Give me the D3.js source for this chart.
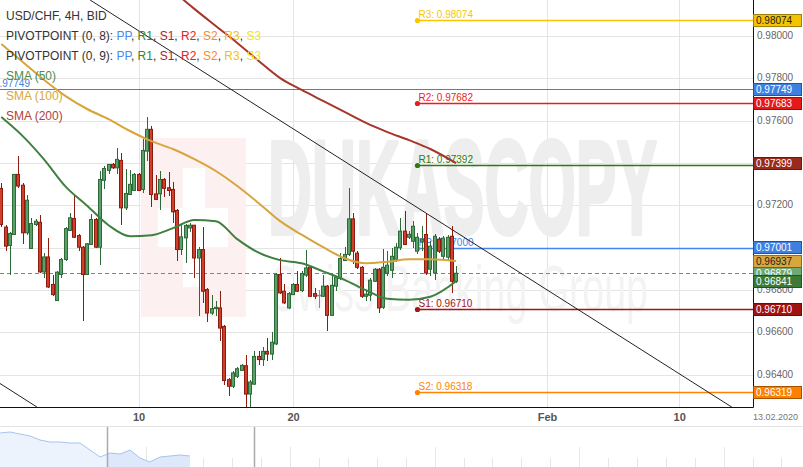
<!DOCTYPE html>
<html><head><meta charset="utf-8">
<script src="https://cdn.jsdelivr.net/npm/d3@7"></script>
<style>
html,body{margin:0;padding:0;background:#fff;}
svg{display:block;font-family:"Liberation Sans",Arial,sans-serif;}
</style></head><body>
<svg id="chart" width="803" height="467"></svg>
<script>
// ---------- DATA (USD/CHF 4H candles, index = candle number) ----------
const candleOpen = [
0.97280,0.97097,0.97010,0.97062,0.97346,0.97295,0.97070,0.96996,0.97109,0.97120,
0.96885,0.96956,0.96826,0.96750,0.96873,0.96944,0.97081,0.97138,0.97057,0.97002,
0.96873,0.97015,0.97133,0.97002,0.97318,0.97365,0.97393,0.97377,0.97412,0.97188,
0.97251,0.97270,0.97346,0.97275,0.97456,0.97559,0.97254,0.97254,0.97322,0.97283,
0.97275,0.97176,0.96991,0.97046,0.97093,0.97106,0.96951,0.96991,0.96802,0.96691,
0.96712,0.96715,0.96628,0.96376,0.96345,0.96392,0.96420,0.96442,0.96308,0.96355,
0.96486,0.96471,0.96510,0.96497,0.96545,0.96873,0.96794,0.96715,0.96778,0.96826,
0.96797,0.96870,0.96907,0.96783,0.96775,0.96770,0.96818,0.96680,0.96818,0.96854,
0.96939,0.96968,0.97136,0.96974,0.96907,0.96770,0.96775,0.96841,0.96898,0.96718,
0.96879,0.96893,0.96945,0.96999,0.97078,0.97049,0.97030,0.96983,0.97030,0.97062,
0.96898,0.96880,0.97040,0.96959,0.96955,0.97054,0.96841];
const candleHigh = [
0.97306,0.97109,0.97073,0.97348,0.97432,0.97305,0.97251,0.97141,0.97133,0.97153,
0.96975,0.97046,0.96873,0.96889,0.96950,0.97097,0.97164,0.97251,0.97063,0.97007,
0.97022,0.97157,0.97138,0.97362,0.97385,0.97396,0.97399,0.97472,0.97448,0.97370,
0.97365,0.97354,0.97354,0.97511,0.97617,0.97574,0.97341,0.97362,0.97328,0.97357,
0.97310,0.97182,0.97106,0.97114,0.97117,0.97109,0.97003,0.97097,0.96808,0.96774,
0.96747,0.96797,0.96633,0.96382,0.96419,0.96434,0.96450,0.96494,0.96373,0.96513,
0.96510,0.96530,0.96573,0.96600,0.96879,0.96949,0.96826,0.96789,0.96833,0.96889,
0.96889,0.96988,0.96912,0.96810,0.96802,0.96873,0.96822,0.96873,0.96865,0.96975,
0.97002,0.97281,0.97163,0.96983,0.96912,0.96794,0.96855,0.96903,0.96903,0.96993,
0.96983,0.96999,0.97021,0.97141,0.97172,0.97078,0.97125,0.97068,0.97101,0.97164,
0.97030,0.97063,0.97049,0.97054,0.97059,0.97101,0.96912];
const candleLow = [
0.97098,0.96983,0.96873,0.97059,0.97283,0.97015,0.97062,0.96993,0.97101,0.96879,
0.96857,0.96808,0.96770,0.96747,0.96857,0.96936,0.97078,0.97046,0.96983,0.96652,
0.96870,0.97012,0.96999,0.96917,0.97275,0.97346,0.97370,0.97346,0.97109,0.97180,
0.97248,0.97267,0.97267,0.97259,0.97409,0.97191,0.97223,0.97176,0.97239,0.97243,
0.97117,0.96939,0.96964,0.96928,0.97074,0.96857,0.96676,0.96739,0.96649,0.96680,
0.96676,0.96557,0.96349,0.96297,0.96337,0.96384,0.96416,0.96230,0.96235,0.96353,
0.96447,0.96443,0.96463,0.96468,0.96538,0.96780,0.96732,0.96709,0.96775,0.96789,
0.96791,0.96860,0.96766,0.96758,0.96715,0.96766,0.96608,0.96676,0.96797,0.96849,
0.96936,0.96959,0.96922,0.96898,0.96761,0.96747,0.96747,0.96837,0.96691,0.96709,
0.96865,0.96855,0.96932,0.96991,0.97012,0.97040,0.96999,0.96969,0.96983,0.96873,
0.96865,0.96849,0.96974,0.96945,0.96936,0.96786,0.96832];
const candleClose = [
0.97109,0.97007,0.97067,0.97346,0.97291,0.97070,0.97224,0.97114,0.97125,0.96885,
0.96956,0.96814,0.96778,0.96884,0.96944,0.97090,0.97141,0.97049,0.97002,0.96873,
0.97018,0.97133,0.97002,0.97322,0.97374,0.97393,0.97377,0.97417,0.97188,0.97256,
0.97299,0.97346,0.97270,0.97459,0.97559,0.97251,0.97228,0.97322,0.97280,0.97270,
0.97169,0.96991,0.97051,0.97105,0.97106,0.96951,0.96991,0.96794,0.96691,0.96712,
0.96718,0.96620,0.96372,0.96345,0.96408,0.96428,0.96444,0.96308,0.96365,0.96486,
0.96471,0.96510,0.96497,0.96553,0.96873,0.96786,0.96739,0.96783,0.96826,0.96794,
0.96878,0.96904,0.96770,0.96770,0.96775,0.96818,0.96680,0.96822,0.96860,0.96949,
0.96968,0.97136,0.96983,0.96907,0.96770,0.96780,0.96846,0.96898,0.96715,0.96907,
0.96917,0.96959,0.97002,0.97078,0.97015,0.97063,0.97101,0.97049,0.97040,0.96880,
0.97007,0.97054,0.96983,0.97045,0.97049,0.96841,0.96879];

// moving averages read at these candle indices
const smaIdx = [0,5,10,15,20,25,30,35,40,45,50,55,60,65,70,75,80,85,90,95,100,106];
const sma50  = [0.97617,0.97527,0.97416,0.97288,0.97198,0.97106,0.97054,0.97059,0.97092,0.97130,0.97125,
                0.97040,0.96976,0.96941,0.96926,0.96888,0.96848,0.96799,0.96758,0.96754,0.96768,0.96841];
const sma100 = [0.97962,0.97877,0.97792,0.97716,0.97655,0.97607,0.97551,0.97503,0.97466,0.97418,0.97362,
                0.97291,0.97210,0.97125,0.97061,0.97002,0.96950,0.96926,0.96933,0.96945,0.96945,0.96937];
const sma200 = [null,null,null,null,null,null,null,null,0.98213,0.98128,0.98047,
                0.97967,0.97882,0.97801,0.97745,0.97693,0.97641,0.97589,0.97546,0.97508,0.97466,0.97399];

// pivot points
const pivotNames  = ["R3","R2","R1","PP","S1","S2"];
const pivotValues = [0.98074,0.97682,0.97392,0.97000,0.96710,0.96318];
const pivotColors = ["#f7c600","#ea1c1c","#2d7a12","#4385ee","#a31414","#ff8200"];
const pivotStart  = 97;
const weekPivot   = 0.97749;

// trend lines: [index, price] pairs
const trendA = [[20.7,0.98170],[178,0.96147]];
const trendB = [[-0.3,0.96358],[8.3,0.96247]];

// right-hand price tags
const tagValues = [0.98074,0.97749,0.97683,0.97399,0.97001,0.96937,0.96879,0.96841,0.96710,0.96319];
const tagFills  = ["#f5c400","#3f7fe0","#e41a1a","#9a2a1c","#3f7fe0","#d8a63c","#6ea872","#3d7a36","#a01313","#ff8000"];
const tagText   = ["#222","#fff","#fff","#fff","#fff","#222","#fff","#fff","#fff","#fff"];
const lastPrice = 0.96879;

// axes
const yTicks = [0.964,0.966,0.968,0.970,0.972,0.974,0.976,0.978,0.980];
const xTickIdx = [32,68,127.2,158];
const xTickLabels = ["10","20","Feb","10"];

// navigator mini chart
const navVals = [0.97870,0.97925,0.97815,0.97705,0.97485,0.97375,0.97375,0.97320,0.97320,0.96935,
                 0.96550,0.96770,0.96715,0.96935,0.96495,0.96275,0.96550,0.96605,0.96660,0.96605];

// ---------- DRAW ----------
const svg = d3.select("#chart");
const PR = 753, PB = 407;
const x = d3.scaleLinear().domain([-0.3,175.2]).range([0,PR]);
const y = d3.scaleLinear().domain([0.96247,0.98170]).range([PB,0]);

svg.append("defs").append("clipPath").attr("id","pc")
  .append("rect").attr("x",0).attr("y",0).attr("width",PR).attr("height",PB);

// grid
const grid = svg.append("g").attr("clip-path","url(#pc)");
grid.append("g").attr("transform",`translate(${PR},0)`)
  .call(d3.axisLeft(y).tickValues(yTicks).tickSize(PR).tickFormat(""))
  .call(g=>g.select(".domain").remove())
  .call(g=>g.selectAll("line").attr("stroke","#e4e4e4").attr("shape-rendering","crispEdges"));
grid.append("g").attr("transform",`translate(0,${PB})`)
  .call(d3.axisTop(x).tickValues(xTickIdx).tickSize(PB).tickFormat(""))
  .call(g=>g.select(".domain").remove())
  .call(g=>g.selectAll("line").attr("stroke","#e4e4e4").attr("shape-rendering","crispEdges"));

// watermark
const wm = svg.append("g").attr("clip-path","url(#pc)");
wm.append("rect").attr("x",141).attr("y",138).attr("width",105).attr("height",179).attr("fill","#fcf0f0");
wm.append("rect").attr("x",183).attr("y",168).attr("width",22).attr("height",119).attr("fill","#fff");
wm.append("rect").attr("x",158).attr("y",208).attr("width",70).attr("height",39).attr("fill","#fff");
wm.append("text").attr("x",268).attr("y",234).attr("font-size",134).attr("font-weight","bold")
  .attr("font-family","'Liberation Sans Narrow','Liberation Sans',Arial")
  .attr("textLength",389).attr("lengthAdjust","spacingAndGlyphs")
  .attr("fill","#eeeeee").attr("stroke","#eeeeee").attr("stroke-width",4).attr("stroke-linejoin","round")
  .text("DUKASCOPY");
wm.append("text").attr("x",271).attr("y",311).attr("font-size",64)
  .attr("font-family","'Liberation Sans Narrow','Liberation Sans',Arial")
  .attr("textLength",377).attr("lengthAdjust","spacingAndGlyphs")
  .attr("fill","#f3f3f3").text("Swiss Banking Group");

const plot = svg.append("g").attr("clip-path","url(#pc)");

// week pivot line (full width)
plot.append("line").attr("x1",0).attr("x2",PR).attr("y1",Math.round(y(weekPivot))+0.5).attr("y2",Math.round(y(weekPivot))+0.5)
  .attr("stroke","#3f7fe0").attr("stroke-width",1);
plot.append("text").attr("x",30).attr("y",y(weekPivot)-2).attr("text-anchor","end")
  .attr("font-size",10).attr("fill","#3f7fe0").text(weekPivot.toFixed(5));

// pivot lines
pivotValues.forEach((v,k)=>{
  const yy = Math.round(y(v))+0.5, xx = x(pivotStart);
  plot.append("line").attr("x1",xx).attr("x2",PR).attr("y1",yy).attr("y2",yy)
    .attr("stroke",pivotColors[k]).attr("stroke-width",1.4);
  plot.append("circle").attr("cx",xx).attr("cy",yy).attr("r",2.6).attr("fill",pivotColors[k]);
  plot.append("text").attr("x",xx+1).attr("y",yy-2.5).attr("font-size",10)
    .attr("fill",pivotColors[k]).text(`${pivotNames[k]}: ${v.toFixed(5)}`);
});

// last price dashed line
plot.append("line").attr("x1",0).attr("x2",PR).attr("y1",Math.round(y(lastPrice))+0.5).attr("y2",Math.round(y(lastPrice))+0.5)
  .attr("stroke","#5f9a68").attr("stroke-dasharray","4,3").attr("stroke-width",1);

// candles
const cg = plot.append("g");
candleOpen.forEach((o,i)=>{
  const c = candleClose[i], h = candleHigh[i], l = candleLow[i];
  const up = c > o, doji = c === o;
  const stroke = doji ? "#888" : (up ? "#2c6b37" : "#8c1b10");
  const fill = doji ? "#888" : (up ? "#5aa06a" : "#cf3f2b");
  const px = Math.round(x(i));
  cg.append("line").attr("x1",px).attr("x2",px).attr("y1",y(h)).attr("y2",y(l))
    .attr("stroke",stroke).attr("stroke-width",1).attr("shape-rendering","crispEdges");
  const yt = y(Math.max(o,c)), yb = y(Math.min(o,c));
  cg.append("rect").attr("x",px-1.5).attr("y",yt).attr("width",3).attr("height",Math.max(yb-yt,0.6))
    .attr("fill",fill).attr("stroke",stroke).attr("stroke-width",1);
});

// SMAs
const smaLine = d3.line().defined(d=>d[1]!==null).x(d=>x(d[0])).y(d=>y(d[1])).curve(d3.curveMonotoneX);
[[sma200,"#a8352a"],[sma100,"#d8a53c"],[sma50,"#3f8040"]].forEach(([arr,col])=>{
  plot.append("path").datum(smaIdx.map((t,k)=>[t,arr[k]])).attr("d",smaLine)
    .attr("fill","none").attr("stroke",col).attr("stroke-width",2);
});

// trend lines
[trendA,trendB].forEach(t=>{
  plot.append("line").attr("x1",x(t[0][0])).attr("y1",y(t[0][1])).attr("x2",x(t[1][0])).attr("y2",y(t[1][1]))
    .attr("stroke","#222").attr("stroke-width",1);
});

// legend
const leg = svg.append("g").attr("font-size",12).attr("fill","#333");
leg.append("text").attr("x",6).attr("y",20).text("USD/CHF, 4H, BID");
const pivLegend = [["PP","#4a8af4"],["R1","#2e8a2e"],["S1","#b32020"],["R2","#ee2020"],["S2","#ff8a1a"],["R3","#f5c400"],["S3","#f5e800"]];
["PIVOTPOINT (0, 8): ","PIVOTPOINT (0, 9): "].forEach((lab,r)=>{
  const t = leg.append("text").attr("x",6).attr("y",40+r*20);
  t.append("tspan").text(lab);
  pivLegend.forEach(([n,c],k)=>{
    t.append("tspan").attr("fill",c).text(n);
    if(k<pivLegend.length-1) t.append("tspan").text(", ");
  });
});
[["SMA (50)","#4c8c4c"],["SMA (100)","#d9a63a"],["SMA (200)","#b0413a"]].forEach(([s,c],k)=>{
  leg.append("text").attr("x",6).attr("y",80+k*20).attr("fill",c).text(s);
});

// plot frame
svg.append("line").attr("x1",0).attr("x2",PR+0.5).attr("y1",PB+0.5).attr("y2",PB+0.5).attr("stroke","#111");
svg.append("line").attr("x1",PR+0.5).attr("x2",PR+0.5).attr("y1",0).attr("y2",PB+0.5).attr("stroke","#111");

// right axis labels
svg.append("g").attr("transform",`translate(${PR},0)`)
  .call(d3.axisRight(y).tickValues(yTicks).tickSize(0).tickPadding(4).tickFormat(d3.format(".5f")))
  .call(g=>g.select(".domain").remove())
  .call(g=>g.selectAll("text").attr("font-size",10).attr("fill","#666").attr("font-family","'Liberation Sans',Arial").attr("dy","0.25em"));

// bottom axis labels
svg.append("g").attr("transform",`translate(0,${PB})`)
  .call(d3.axisBottom(x).tickValues(xTickIdx).tickSize(0).tickPadding(6).tickFormat((d,k)=>xTickLabels[k]))
  .call(g=>g.select(".domain").remove())
  .call(g=>g.selectAll("text").attr("font-size",11).attr("font-weight","bold").attr("fill","#555").attr("font-family","'Liberation Sans',Arial"));
svg.append("text").attr("x",753).attr("y",419.5).attr("font-size",9).attr("fill","#777").text("13.02.2020");

// tags
const tags = svg.append("g").attr("font-size",10);
tagValues.forEach((v,k)=>{
  const yy = Math.round(y(v));
  tags.append("rect").attr("x",753.5).attr("y",yy-5.5).attr("width",48).attr("height",12)
    .attr("fill",tagFills[k]).attr("stroke",d3.color(tagFills[k]).darker(1.2)).attr("stroke-width",1);
  tags.append("text").attr("x",756).attr("y",yy+4).attr("fill",tagText[k]).text(v.toFixed(5));
});

// navigator
const nav = svg.append("g");
nav.append("line").attr("x1",0).attr("x2",803).attr("y1",426.5).attr("y2",426.5).attr("stroke","#e3e3e3");
d3.range(0,28).forEach(k=>{
  const xx = Math.round(1.1+28.9*k)+0.5;
  nav.append("line").attr("x1",xx).attr("x2",xx).attr("y1",k%5===0?447:458).attr("y2",467).attr("stroke","#e6e6e6");
});
const nx = d3.scaleLinear().domain([0,navVals.length-1]).range([0,190]);
const ny = d3.scaleLinear().domain([0.960,0.982]).range([467,427]);
const navArea = d3.area().x((d,i)=>nx(i)).y0(467).y1(d=>ny(d));
nav.append("path").datum(navVals).attr("d",navArea).attr("fill","#edf3fd");
nav.append("clipPath").attr("id","selc").append("rect").attr("x",107).attr("y",427).attr("width",148).attr("height",40);
nav.append("path").datum(navVals).attr("d",navArea).attr("fill","#dde8fa").attr("clip-path","url(#selc)");
nav.append("path").datum(navVals).attr("d",d3.line().x((d,i)=>nx(i)).y(d=>ny(d))).attr("fill","none").attr("stroke","#a9c3ef").attr("stroke-width",1);
[107.5,254.5].forEach(xx=>nav.append("line").attr("x1",xx).attr("x2",xx).attr("y1",427).attr("y2",467).attr("stroke","#aaa").attr("stroke-width",1.5));
</script>
</body></html>
